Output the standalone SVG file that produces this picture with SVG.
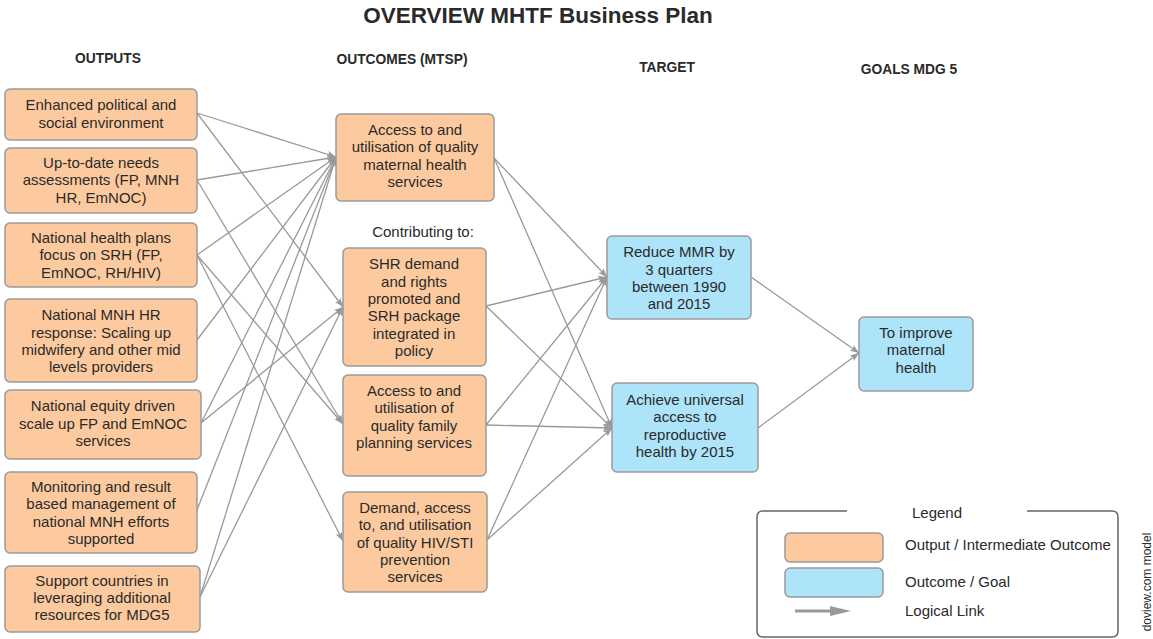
<svg xmlns="http://www.w3.org/2000/svg" width="1153" height="639" viewBox="0 0 1153 639">
<style>
text{font-family:"Liberation Sans",Arial,sans-serif;fill:#2a2a2a}
.t{font-size:15px;text-anchor:middle}
.h{font-size:13.8px;font-weight:bold;text-anchor:middle}
.o{fill:#FDCA9F;stroke:#9a9a9a;stroke-width:1.5}
.b{fill:#ADE4FA;stroke:#9a9a9a;stroke-width:1.5}
.c{stroke:#999;stroke-width:1.3;fill:none;marker-end:url(#ah)}
.l{font-size:15px}
</style>
<defs>
<marker id="ah" markerUnits="userSpaceOnUse" markerWidth="10" markerHeight="8" refX="9" refY="4" orient="auto">
<path d="M0,0.5 L9,4 L0,7.5 L2,4 z" fill="#999"/>
</marker>
</defs>
<rect width="1153" height="639" fill="#fff"/>
<text x="538" y="23" style="font-size:22.5px;font-weight:bold;text-anchor:middle">OVERVIEW MHTF Business Plan</text>
<text class="h" x="108" y="63">OUTPUTS</text>
<text class="h" x="402" y="64">OUTCOMES (MTSP)</text>
<text class="h" x="667" y="72">TARGET</text>
<text class="h" x="909" y="74">GOALS MDG 5</text>
<text class="t" x="423" y="237">Contributing to:</text>

<g id="connectors">
<line class="c" x1="197" y1="113" x2="336" y2="157"/>
<line class="c" x1="197" y1="113" x2="343" y2="307"/>
<line class="c" x1="197" y1="180" x2="336" y2="157"/>
<line class="c" x1="197" y1="180" x2="343" y2="424"/>
<line class="c" x1="197" y1="255" x2="336" y2="157"/>
<line class="c" x1="197" y1="255" x2="343" y2="424"/>
<line class="c" x1="197" y1="255" x2="343" y2="541"/>
<line class="c" x1="197" y1="340" x2="336" y2="157"/>
<line class="c" x1="201" y1="423" x2="336" y2="157"/>
<line class="c" x1="201" y1="423" x2="343" y2="307"/>
<line class="c" x1="197" y1="510" x2="336" y2="157"/>
<line class="c" x1="200" y1="597" x2="336" y2="157"/>
<line class="c" x1="200" y1="597" x2="343" y2="307"/>
<line class="c" x1="494" y1="158" x2="607" y2="277"/>
<line class="c" x1="494" y1="158" x2="612" y2="428"/>
<line class="c" x1="486" y1="306" x2="607" y2="277"/>
<line class="c" x1="486" y1="306" x2="612" y2="428"/>
<line class="c" x1="486" y1="425" x2="607" y2="277"/>
<line class="c" x1="486" y1="425" x2="612" y2="428"/>
<line class="c" x1="487" y1="540" x2="607" y2="277"/>
<line class="c" x1="487" y1="540" x2="612" y2="428"/>
<line class="c" x1="751" y1="277" x2="859" y2="353"/>
<line class="c" x1="758" y1="428" x2="859" y2="353"/>
</g>

<g id="out1"><rect class="o" x="5" y="89" width="192" height="51" rx="5"/>
<text class="t" x="101" y="110">Enhanced political and</text><text class="t" x="101" y="128">social environment</text></g>
<g id="out2"><rect class="o" x="5" y="148" width="192" height="65" rx="5"/>
<text class="t" x="101" y="168">Up-to-date needs</text><text class="t" x="101" y="185">assessments (FP, MNH</text><text class="t" x="101" y="203">HR, EmNOC)</text></g>
<g id="out3"><rect class="o" x="5" y="223" width="192" height="64" rx="5"/>
<text class="t" x="101" y="243">National health plans</text><text class="t" x="101" y="260">focus on SRH (FP,</text><text class="t" x="101" y="278">EmNOC, RH/HIV)</text></g>
<g id="out4"><rect class="o" x="5" y="299" width="192" height="83" rx="5"/>
<text class="t" x="101" y="320">National MNH HR</text><text class="t" x="101" y="338">response: Scaling up</text><text class="t" x="101" y="355">midwifery and other mid</text><text class="t" x="101" y="372">levels providers</text></g>
<g id="out5"><rect class="o" x="5" y="390" width="196" height="69" rx="5"/>
<text class="t" x="103" y="411">National equity driven</text><text class="t" x="103" y="429">scale up FP and EmNOC</text><text class="t" x="103" y="446">services</text></g>
<g id="out6"><rect class="o" x="5" y="472" width="192" height="81" rx="5"/>
<text class="t" x="101" y="492">Monitoring and result</text><text class="t" x="101" y="509">based management of</text><text class="t" x="101" y="527">national MNH efforts</text><text class="t" x="101" y="544">supported</text></g>
<g id="out7"><rect class="o" x="5" y="566" width="195" height="66" rx="5"/>
<text class="t" x="102" y="586">Support countries in</text><text class="t" x="102" y="603">leveraging additional</text><text class="t" x="102" y="620">resources for MDG5</text></g>

<g id="outcomeA"><rect class="o" x="336" y="114" width="158" height="87" rx="5"/>
<text class="t" x="415" y="135">Access to and</text><text class="t" x="415" y="152">utilisation of quality</text><text class="t" x="415" y="170">maternal health</text><text class="t" x="415" y="187">services</text></g>
<g id="outcomeB"><rect class="o" x="343" y="248" width="143" height="118" rx="5"/>
<text class="t" x="414" y="269">SHR demand</text><text class="t" x="414" y="287">and rights</text><text class="t" x="414" y="304">promoted and</text><text class="t" x="414" y="321">SRH package</text><text class="t" x="414" y="339">integrated in</text><text class="t" x="414" y="356">policy</text></g>
<g id="outcomeC"><rect class="o" x="343" y="375" width="143" height="101" rx="5"/>
<text class="t" x="414" y="396">Access to and</text><text class="t" x="414" y="413">utilisation of</text><text class="t" x="414" y="431">quality family</text><text class="t" x="414" y="448">planning services</text></g>
<g id="outcomeD"><rect class="o" x="343" y="492" width="144" height="100" rx="5"/>
<text class="t" x="415" y="513">Demand, access</text><text class="t" x="415" y="530">to, and utilisation</text><text class="t" x="415" y="548">of quality HIV/STI</text><text class="t" x="415" y="565">prevention</text><text class="t" x="415" y="582">services</text></g>

<g id="target1"><rect class="b" x="607" y="236" width="144" height="83" rx="5"/>
<text class="t" x="679" y="257">Reduce MMR by</text><text class="t" x="679" y="275">3 quarters</text><text class="t" x="679" y="292">between 1990</text><text class="t" x="679" y="309">and 2015</text></g>
<g id="target2"><rect class="b" x="612" y="383" width="146" height="89" rx="5"/>
<text class="t" x="685" y="405">Achieve universal</text><text class="t" x="685" y="422">access to</text><text class="t" x="685" y="440">reproductive</text><text class="t" x="685" y="457">health by 2015</text></g>
<g id="goal"><rect class="b" x="859" y="317" width="114" height="74" rx="5"/>
<text class="t" x="916" y="338">To improve</text><text class="t" x="916" y="355">maternal</text><text class="t" x="916" y="373">health</text></g>

<g id="legend">
<path d="M847,511 H763 Q757,511 757,517 V631 Q757,637 763,637 H1112 Q1118,637 1118,631 V517 Q1118,511 1112,511 H1027" fill="none" stroke="#666" stroke-width="1.5"/>
<text x="937" y="518" style="font-size:15px;text-anchor:middle">Legend</text>
<rect class="o" x="785" y="533" width="98" height="29" rx="5"/>
<rect class="b" x="785" y="568" width="98" height="29" rx="5"/>
<line x1="795" y1="611" x2="834" y2="611" stroke="#999" stroke-width="3"/>
<path d="M830,606 L851,611 L830,616 z" fill="#999"/>
<text class="l" x="905" y="550">Output / Intermediate Outcome</text>
<text class="l" x="905" y="587">Outcome / Goal</text>
<text class="l" x="905" y="616">Logical Link</text>
</g>
<text x="0" y="0" transform="translate(1151,582) rotate(-90)" style="font-size:12px;text-anchor:middle">doview.com model</text>
</svg>
